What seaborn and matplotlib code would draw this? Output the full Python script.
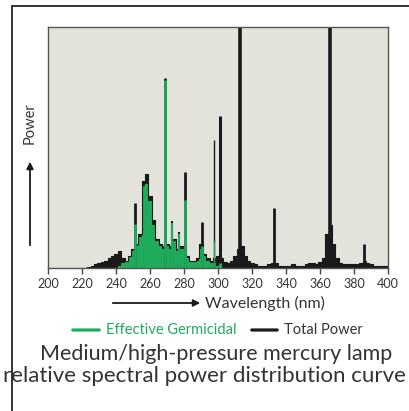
import numpy as np
import pandas as pd
import matplotlib.pyplot as plt
from matplotlib.patches import Rectangle
import seaborn as sns

# broad emission background, read every 2 nm (relative power, 100 = top of axes)
wavelength = np.arange(200, 401, 2)
total_base = [0, 0, 0, 0, 0, 0, 0, 0, 0, 0, 0, 0, 0.5, 1, 1.5, 2, 2.5, 3, 4, 5,
              6, 7, 4, 3, 5, 8, 10, 14, 36, 39, 30, 20, 12, 10, 9, 10, 9, 12, 8, 9,
              9, 5, 3, 3, 4, 10, 6, 4, 3, 4, 5, 4, 2.5, 2, 3, 5, 8, 9, 5, 3,
              2, 1.5, 1, 1, 1, 1.5, 2, 2, 1, 0.8, 0.8, 1, 1.5, 1, 0.8, 1, 1.5, 2, 2, 1.5,
              2.5, 4, 14, 18, 10, 4, 2, 1.5, 1.5, 1.5, 1.5, 1.5, 2, 3, 2, 1.5, 1, 1, 1, 1,
              1]
germ_base = [0, 0, 0, 0, 0, 0, 0, 0, 0, 0, 0, 0, 0, 0, 0, 0, 0, 0, 0, 0,
             0, 1, 2, 3, 5, 7, 9, 13, 34, 35, 28, 18, 11, 9, 8, 9, 8, 11, 7, 8,
             8, 4, 2.5, 2.5, 3, 8, 5, 3, 2, 2, 1, 0, 0, 0, 0, 0, 0, 0, 0, 0,
             0, 0, 0, 0, 0, 0, 0, 0, 0, 0, 0, 0, 0, 0, 0, 0, 0, 0, 0, 0,
             0, 0, 0, 0, 0, 0, 0, 0, 0, 0, 0, 0, 0, 0, 0, 0, 0, 0, 0, 0,
             0]

# narrow mercury lines
line_wl = [251, 269, 273, 277, 280.5, 290.5, 297.5, 301, 313, 333, 366, 386]
line_total = [27, 79, 19.5, 15, 40, 19, 53, 63, 100, 25, 100, 10]
line_germ = [19, 79, 19.5, 15, 29, 10, 12, 3, 0, 0, 0, 0]
line_width = [2, 2, 1.5, 1.5, 2, 2, 1, 2.2, 2.6, 2, 2.6, 2]

df = pd.DataFrame({'Wavelength': wavelength, 'Total': total_base, 'Germ': germ_base})

green = '#1fab5c'
black = '#1a1a1a'
text_col = '#333333'

sns.set_style('ticks')
plt.rcParams['font.family'] = ['Lato', 'DejaVu Sans']

fig = plt.figure(figsize=(4.09, 4.11), dpi=100)
ax = fig.add_axes([48 / 409, 1 - 268 / 411, 340 / 409, 241 / 411])
ax.set_facecolor('#e3e2db')

# base spectrum
ax.fill_between(df['Wavelength'], df['Total'], step='mid', color=black, lw=0)
sns.lineplot(data=df, x='Wavelength', y='Total', drawstyle='steps-mid',
             color=black, lw=0.8, ax=ax)
ax.fill_between(df['Wavelength'], df['Germ'], step='mid', color=green, lw=0)

# lines
for w, t, g, lw in zip(line_wl, line_total, line_germ, line_width):
    ax.vlines(w, 0, t, color=black, lw=lw)
    if g > 0:
        ax.vlines(w, 0, g - 0.8, color=green, lw=lw)

ax.set_xlim(200, 400)
ax.set_ylim(0, 100)
ax.set_xticks(range(200, 401, 20))
ax.set_yticks([])
ax.set_xlabel('')
ax.set_ylabel('')
ax.tick_params(axis='x', length=4, width=1, color='#444444', pad=3.5,
               labelsize=9, labelcolor=text_col)
for s in ax.spines.values():
    s.set_color('#555555')
    s.set_linewidth(1.0)

# axis arrows and labels
ax.annotate('', xy=(203, 108), xytext=(110, 108), xycoords='figure pixels',
            arrowprops=dict(arrowstyle='-|>', color=black, lw=1.3,
                            mutation_scale=10))
fig.text(265 / 409, 108 / 411, 'Wavelength (nm)', ha='center', va='center',
         fontsize=11.5, color=text_col)
ax.annotate('', xy=(30, 252), xytext=(30, 163), xycoords='figure pixels',
            arrowprops=dict(arrowstyle='-|>', color=black, lw=1.3,
                            mutation_scale=10))
fig.text(30 / 409, 288 / 411, 'Power', ha='center', va='center', rotation=90,
         fontsize=10.5, color=text_col)

# legend
ax.annotate('', xy=(102, 81), xytext=(70, 81), xycoords='figure pixels',
            arrowprops=dict(arrowstyle='-', color=green, lw=2.3))
fig.text(106 / 409, 81 / 411, 'Effective Germicidal', ha='left', va='center',
         fontsize=10.5, color=green)
ax.annotate('', xy=(280, 81), xytext=(249, 81), xycoords='figure pixels',
            arrowprops=dict(arrowstyle='-', color=black, lw=2.3))
fig.text(284 / 409, 81 / 411, 'Total Power', ha='left', va='center',
         fontsize=10.5, color=text_col)

# title
fig.text(216 / 409, 57 / 411, 'Medium/high-pressure mercury lamp', ha='center',
         va='center', fontsize=15.5, color=text_col)
fig.text(204 / 409, 35 / 411, 'relative spectral power distribution curve',
         ha='center', va='center', fontsize=16, color=text_col)

# outer frame
fig.patches.append(Rectangle((12 / 409, -0.1), 1.2, 1 - 6 / 411 + 0.1,
                             transform=fig.transFigure, fill=False,
                             edgecolor='#222222', lw=1.3, clip_on=False))

fig.savefig('out.png', dpi=100)
